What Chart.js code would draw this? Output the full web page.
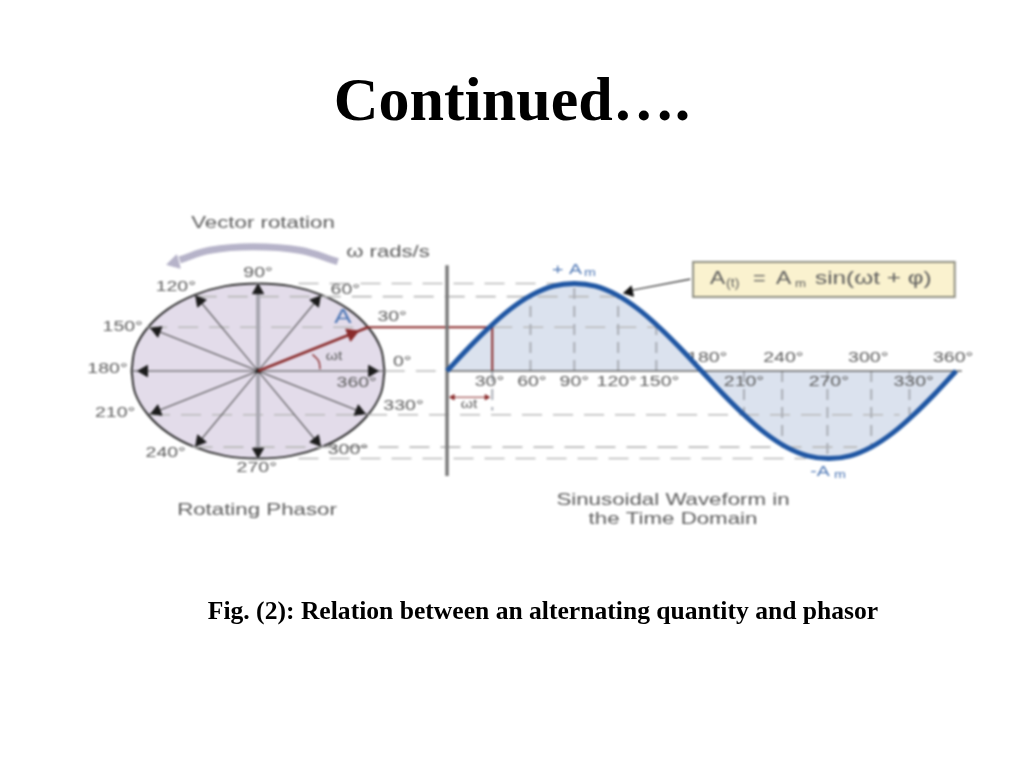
<!DOCTYPE html>
<html>
<head>
<meta charset="utf-8">
<title>Continued</title>
<script src="https://cdn.jsdelivr.net/npm/chart.js@4"></script>
<style>
  body { margin: 0; background: #fff; width: 1024px; height: 768px; overflow: hidden; position: relative; }
  #grafico { position: absolute; left: 0; top: 0; filter: blur(0.9px); }
  h1, p { position: absolute; left: 0; width: 1024px; margin: 0; text-align: center; color: #000; font-family: "Liberation Serif", serif; font-weight: bold; }
  h1 { top: 64px; font-size: 62px; line-height: 70px; }
  p { top: 596px; left: 31px; font-size: 25.6px; line-height: 30px; }
</style>
</head>
<body>
<h1>Continued….</h1>
<canvas id="grafico" width="1024" height="768"></canvas>
<p>Fig. (2): Relation between an alternating quantity and phasor</p>

<script>
// onda senoidal, leida cada 15 grados
const grados = [0, 15, 30, 45, 60, 75, 90, 105, 120, 135, 150, 165, 180, 195, 210, 225, 240, 255, 270, 285, 300, 315, 330, 345, 360];
const onda = [0, 0.26, 0.5, 0.71, 0.87, 0.97, 1, 0.97, 0.87, 0.71, 0.5, 0.26, 0, -0.26, -0.5, -0.71, -0.87, -0.97, -1, -0.97, -0.87, -0.71, -0.5, -0.26, 0];

// contorno del circulo
const circuloX = [1, 0.97, 0.87, 0.71, 0.5, 0.26, 0, -0.26, -0.5, -0.71, -0.87, -0.97, -1];
const circuloArriba = [0, 0.26, 0.5, 0.71, 0.87, 0.97, 1, 0.97, 0.87, 0.71, 0.5, 0.26, 0];
const circuloAbajo = [0, -0.26, -0.5, -0.71, -0.87, -0.97, -1, -0.97, -0.87, -0.71, -0.5, -0.26, 0];

// radios del fasor, cada 30 grados (el de 30 va aparte, en rojo)
const radioAngulos = [0, 60, 90, 120, 150, 180, 210, 240, 270, 300, 330];
const radioX = [1, 0.5, 0, -0.5, -0.87, -1, -0.87, -0.5, 0, 0.5, 0.87];
const radioY = [0, 0.87, 1, 0.87, 0.5, 0, -0.5, -0.87, -1, -0.87, -0.5];
const puntaX = [0.9, 0.46, 0, -0.46, -0.8, -0.9, -0.8, -0.46, 0, 0.46, 0.8];
const puntaY = [0, 0.8, 0.92, 0.8, 0.46, 0, -0.46, -0.8, -0.92, -0.8, -0.46];
const fasorX = [0, 0.87];
const fasorY = [0, 0.5];

// lineas punteadas horizontales (nivel, desde, hasta en grados)
const nivelY = [1, 0.85, 0.5, 0.5, 0, -0.5, -0.87, -1];
const nivelDesde = [-105, -177, -212, 32, -44, -210, -180, -105];
const nivelHasta = [90, 121, -57, 152, 0, 320, 290, 254];

// lineas punteadas verticales sobre la onda
const verticalX = [32, 59, 90, 121, 148, 210, 237, 269, 300, 327];
const verticalY = [-0.45, 0.85, 1, 0.85, 0.5, -0.5, -0.87, -1, -0.87, -0.5];

// etiquetas del fasor y de la onda
const fasorEtiquetas = ["90°", "120°", "60°", "30°", "150°", "0°", "180°", "360°", "330°", "210°", "240°", "300°", "270°"];
const fasorEtiquetaX = [0, -0.65, 0.69, 1.06, -1.07, 1.14, -1.19, 0.78, 1.15, -1.13, -0.73, 0.71, -0.01];
const fasorEtiquetaY = [1.12, 0.96, 0.93, 0.62, 0.5, 0.11, 0.03, -0.13, -0.4, -0.48, -0.93, -0.9, -1.11];
const ondaArriba = [240, 300, 360];
const ondaAbajo = [30, 60, 90, 120, 150, 210, 270, 330];

// flecha curva "Vector rotation"
const giroX = [0.63, 0.33, -0.04, -0.38, -0.62];
const giroY = [1.25, 1.38, 1.42, 1.38, 1.27];
const giroPuntaX = [-0.66];
const giroPuntaY = [1.24];

const GRIS_TEXTO = '#5c5c5c';
const AZUL_TEXTO = '#4f78b5';
const ROJO = '#8a2b2b';
const AZUL = '#1f56a3';

function puntos(xs, ys) {
  return xs.map((x, i) => ({ x, y: ys[i] }));
}

function linea(data, color, ancho, extra) {
  return Object.assign({
    data, borderColor: color, borderWidth: ancho, pointRadius: 0, showLine: true,
    fill: false, xAxisID: 'xOnda', yAxisID: 'y'
  }, extra || {});
}

// orienta la punta de flecha hacia afuera del centro, en pixeles
function rotacionRadial(ctx) {
  const p = ctx.raw;
  if (!p) return 0;
  const escalaX = ctx.chart.scales.xFasor, escalaY = ctx.chart.scales.y;
  const dx = escalaX.getPixelForValue(p.x) - escalaX.getPixelForValue(0);
  const dy = escalaY.getPixelForValue(p.y) - escalaY.getPixelForValue(0);
  return Math.atan2(dx, -dy) * 180 / Math.PI;
}

function flechas(data, color, radio, eje, rotacion) {
  return {
    data, showLine: false, pointStyle: 'triangle', pointRadius: radio, pointRotation: rotacion,
    pointBackgroundColor: color, pointBorderColor: color, xAxisID: eje, yAxisID: 'y'
  };
}

const capas = [];

// circulo
capas.push(linea(puntos(circuloX, circuloArriba), '#2f2f2f', 2, { xAxisID: 'xFasor', fill: 'origin', backgroundColor: '#e3dcea', tension: 0.4 }));
capas.push(linea(puntos(circuloX, circuloAbajo), '#2f2f2f', 2, { xAxisID: 'xFasor', fill: 'origin', backgroundColor: '#e3dcea', tension: 0.4 }));

// relleno de la onda
capas.push(linea(puntos(grados, onda), 'transparent', 0, { fill: 'origin', backgroundColor: '#dbe2ee', tension: 0.4 }));
const indiceRelleno = capas.length - 1;

// punteadas
nivelY.forEach((y, i) => {
  capas.push(linea([{ x: nivelDesde[i], y }, { x: nivelHasta[i], y }], '#b9b9b9', 1.6, { borderDash: [20, 11] }));
});
verticalX.forEach((x, i) => {
  capas.push(linea([{ x, y: 0 }, { x, y: verticalY[i] }], '#a9adb5', 2, { borderDash: [11, 7] }));
});

// radios
radioX.forEach((x, i) => {
  const vertical = radioAngulos[i] === 90 || radioAngulos[i] === 270;
  capas.push(linea([{ x: 0, y: 0 }, { x, y: radioY[i] }], vertical ? '#a8a7b0' : '#4a4a4a', vertical ? 4 : 1.1, { xAxisID: 'xFasor' }));
});
capas.push(flechas(puntos(puntaX, puntaY), '#1c1c1c', 6.5, 'xFasor', rotacionRadial));
capas.push(flechas([{ x: 0, y: 0 }], '#222', 3, 'xFasor', 0));

// fasor rojo y proyeccion
capas.push(linea(puntos(fasorX, fasorY), ROJO, 2.6, { xAxisID: 'xFasor' }));
capas.push(flechas([{ x: 0.74, y: 0.425 }], ROJO, 7.5, 'xFasor', rotacionRadial));
capas.push(linea([{ x: -57, y: 0.5 }, { x: 32, y: 0.5 }, { x: 32, y: 0 }], ROJO, 2));

// arco wt
capas.push(linea([{ x: 0.43, y: 0.19 }, { x: 0.48, y: 0.11 }, { x: 0.49, y: 0.02 }], ROJO, 1.4, { xAxisID: 'xFasor', tension: 0.4 }));

// flecha curva
capas.push(linea(puntos(giroX, giroY), '#b6b3c9', 7, { xAxisID: 'xFasor', tension: 0.4 }));
capas.push(flechas(puntos(giroPuntaX, giroPuntaY), '#b6b3c9', 8, 'xFasor', 255));

// ejes de la onda
capas.push(linea([{ x: 0, y: 0 }, { x: 364, y: 0 }], '#666', 1.6));
capas.push(linea([{ x: 0, y: 1.21 }, { x: 0, y: -1.2 }], '#777', 3.4));

// dimension wt
capas.push(linea([{ x: 3, y: -0.3 }, { x: 29, y: -0.3 }], ROJO, 1.2));
capas.push(flechas([{ x: 4, y: -0.3 }], ROJO, 3, 'xOnda', 270));
capas.push(flechas([{ x: 28, y: -0.3 }], ROJO, 3, 'xOnda', 90));

// curva
capas.push(linea(puntos(grados, onda), AZUL, 5, { tension: 0.4 }));

// flecha hacia la ecuacion
capas.push(linea([{ x: 172, y: 1.05 }, { x: 130, y: 0.92 }], '#222', 1.2));
capas.push(flechas([{ x: 129, y: 0.905 }], '#111', 6, 'xOnda', 258));

// la figura original esta estirada a lo ancho, el texto tambien
function texto(ctx, t, x, y, fuente, color, alinear, estirar) {
  ctx.save();
  ctx.translate(x, y);
  ctx.scale(estirar || 1.3, 1);
  ctx.font = fuente;
  ctx.fillStyle = color;
  ctx.textAlign = alinear || 'center';
  ctx.textBaseline = 'middle';
  ctx.fillText(t, 0, 0);
  ctx.restore();
}

const SANS = '"Liberation Sans", sans-serif';

// el "180°" se pinta antes del relleno: la onda le tapa el 1, como en la figura
const etiquetaDebajo = {
  id: 'etiquetaDebajo',
  afterDatasetDraw(chart, args) {
    if (args.index !== capas.length - indiceRelleno) return;
    const { ctx, scales } = chart;
    texto(ctx, '180°', scales.xOnda.getPixelForValue(184), scales.y.getPixelForValue(0.15), '15px ' + SANS, GRIS_TEXTO);
  }
};

const etiquetas = {
  id: 'etiquetas',
  afterDatasetsDraw(chart) {
    const { ctx, scales } = chart;
    const px = v => scales.xOnda.getPixelForValue(v);
    const py = v => scales.y.getPixelForValue(v);
    const fuente = '15px ' + SANS;

    fasorEtiquetas.forEach((t, i) => {
      texto(ctx, t, scales.xFasor.getPixelForValue(fasorEtiquetaX[i]), py(fasorEtiquetaY[i]), fuente, GRIS_TEXTO);
    });
    ondaArriba.forEach(g => texto(ctx, g + '°', px(g) - 3, py(0.15), fuente, GRIS_TEXTO));
    ondaAbajo.forEach(g => texto(ctx, g + '°', px(g), py(-0.12), fuente, GRIS_TEXTO));

    texto(ctx, 'Vector rotation', 263, 223, '16.5px ' + SANS, GRIS_TEXTO, 'center', 1.35);
    texto(ctx, 'ω rads/s', 388, 252, '17px ' + SANS, GRIS_TEXTO);
    texto(ctx, 'Rotating Phasor', 257, 510, '16.5px ' + SANS, GRIS_TEXTO, 'center', 1.35);
    texto(ctx, 'Sinusoidal Waveform in', 673, 500, '16.5px ' + SANS, GRIS_TEXTO, 'center', 1.35);
    texto(ctx, 'the Time Domain', 673, 519, '16.5px ' + SANS, GRIS_TEXTO, 'center', 1.35);
    texto(ctx, 'A', 343, 317, '20px ' + SANS, AZUL_TEXTO);
    texto(ctx, 'ωt', 334, 357, '12px ' + SANS, GRIS_TEXTO);
    texto(ctx, 'ωt', 469, 405, '12px ' + SANS, GRIS_TEXTO);
    texto(ctx, '+ A', 567, 270, '15px ' + SANS, AZUL_TEXTO);
    texto(ctx, 'm', 590, 273, '11px ' + SANS, AZUL_TEXTO);
    texto(ctx, '-A', 820, 472, '15px ' + SANS, AZUL_TEXTO);
    texto(ctx, 'm', 840, 475, '11px ' + SANS, AZUL_TEXTO);

    // recuadro de la ecuacion
    ctx.save();
    ctx.fillStyle = '#faf2cf';
    ctx.strokeStyle = '#8f8f82';
    ctx.lineWidth = 2;
    ctx.fillRect(px(174), py(1.246), px(359) - px(174), py(0.846) - py(1.246));
    ctx.strokeRect(px(174), py(1.246), px(359) - px(174), py(0.846) - py(1.246));
    ctx.restore();
    texto(ctx, 'A', 710, 279, '19px ' + SANS, GRIS_TEXTO, 'left', 1.2);
    texto(ctx, '(t)', 726, 284, '12px ' + SANS, GRIS_TEXTO, 'left', 1.2);
    texto(ctx, '=', 753, 279, '18px ' + SANS, GRIS_TEXTO, 'left', 1.2);
    texto(ctx, 'A', 776, 279, '19px ' + SANS, GRIS_TEXTO, 'left', 1.2);
    texto(ctx, 'm', 795, 284, '11px ' + SANS, GRIS_TEXTO, 'left', 1.2);
    texto(ctx, 'sin(ωt + φ)', 815, 279, '19px ' + SANS, GRIS_TEXTO, 'left', 1.28);
  }
};

new Chart(document.getElementById('grafico'), {
  type: 'scatter',
  // se dibujan del ultimo al primero
  data: { datasets: capas.slice().reverse() },
  plugins: [etiquetaDebajo, etiquetas],
  options: {
    responsive: false,
    animation: false,
    events: [],
    layout: { padding: 0, autoPadding: false },
    plugins: { legend: { display: false }, tooltip: { enabled: false }, title: { display: false } },
    scales: {
      // 0 grados en x=447, 360 en x=956
      xOnda: { type: 'linear', display: false, min: -316.1, max: 408 },
      // centro del circulo en x=258, radio 126.5
      xFasor: { type: 'linear', display: false, min: -2.04, max: 6.055 },
      // eje en y=371, amplitud 87.5
      y: { type: 'linear', display: false, min: -4.537, max: 4.24 }
    }
  }
});
</script>
</body>
</html>
